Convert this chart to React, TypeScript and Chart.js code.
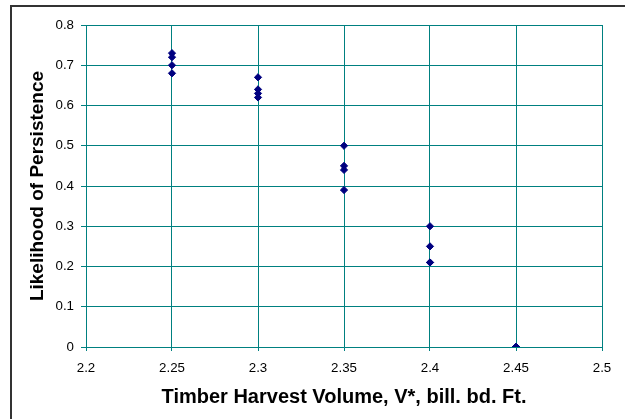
import React, { useEffect, useRef } from "react";
import { Chart, registerables } from "chart.js";

Chart.register(...registerables);

const volumes = [2.25, 2.3, 2.35, 2.4, 2.45];
const likelihoods = [
  [0.73, 0.72, 0.7, 0.68],
  [0.67, 0.64, 0.63, 0.62],
  [0.5, 0.45, 0.44, 0.39],
  [0.3, 0.25, 0.21, 0.21],
  [0, 0, 0, 0],
];
const xTitle = "Timber Harvest Volume, V*, bill. bd. Ft.";
const yTitle = "Likelihood of Persistence";
const xMin = 2.2;
const xMax = 2.5;
const yMin = 0;
const yMax = 0.8;

const GRID = "#008080";
const POINT = "#000080";
const FONT = "'Liberation Sans', Arial, sans-serif";

export default function App() {
  const ref = useRef<HTMLCanvasElement | null>(null);

  useEffect(() => {
    if (!ref.current) return;
    const points: { x: number; y: number }[] = [];
    volumes.forEach((v, i) => likelihoods[i].forEach((l) => points.push({ x: v, y: l })));

    const decor = {
      id: "decor",
      beforeDraw(chart: any) {
        const ctx = chart.ctx;
        ctx.save();
        ctx.fillStyle = "#ffffff";
        ctx.fillRect(0, 0, chart.width, chart.height);
        ctx.strokeStyle = "#333333";
        ctx.lineWidth = 2;
        ctx.strokeRect(11, 6, chart.width + 20, chart.height + 20);
        ctx.restore();
      },
      afterDraw(chart: any) {
        const ctx = chart.ctx;
        const a = chart.chartArea;
        ctx.save();
        ctx.fillStyle = "#000000";
        ctx.textAlign = "center";
        ctx.textBaseline = "alphabetic";
        ctx.font = `bold 20px ${FONT}`;
        ctx.fillText(xTitle, (a.left + a.right) / 2, 403);
        ctx.font = `bold 19px ${FONT}`;
        ctx.translate(43, (a.top + a.bottom) / 2);
        ctx.rotate(-Math.PI / 2);
        ctx.fillText(yTitle, 0, 0);
        ctx.restore();
      },
    };

    const chart = new Chart(ref.current, {
      type: "scatter",
      data: {
        datasets: [
          {
            data: points,
            pointStyle: "rectRot",
            pointRadius: 3.6,
            pointHoverRadius: 3.6,
            backgroundColor: POINT,
            borderColor: POINT,
            borderWidth: 1,
          },
        ],
      },
      options: {
        responsive: false,
        animation: false,
        devicePixelRatio: 1,
        layout: { padding: { top: 25, right: 23, left: 0, bottom: 0 } },
        plugins: { legend: { display: false }, tooltip: { enabled: false } },
        scales: {
          x: {
            type: "linear",
            min: xMin,
            max: xMax,
            afterFit: (s: any) => {
              s.height = 72;
            },
            ticks: {
              stepSize: 0.05,
              color: "#000",
              font: { family: FONT, size: 13.3 },
              padding: 9,
              maxRotation: 0,
              callback: (v: any) => String(Number(Number(v).toFixed(2))),
            },
            grid: { color: GRID, tickLength: 4, tickColor: GRID },
            border: { color: GRID },
          },
          y: {
            type: "linear",
            min: yMin,
            max: yMax,
            afterFit: (s: any) => {
              s.width = 86;
            },
            ticks: {
              stepSize: 0.1,
              color: "#000",
              font: { family: FONT, size: 13.3 },
              padding: 7,
              callback: (v: any) => String(Number(Number(v).toFixed(1))),
            },
            grid: { color: GRID, tickLength: 5, tickColor: GRID },
            border: { color: GRID },
          },
        },
      },
      plugins: [decor],
    } as any);
    return () => chart.destroy();
  }, []);

  return (
    <div style={{ position: "absolute", left: 0, top: 0, width: 625, height: 419 }}>
      <canvas ref={ref} width={625} height={419} style={{ display: "block" }} />
    </div>
  );
}
